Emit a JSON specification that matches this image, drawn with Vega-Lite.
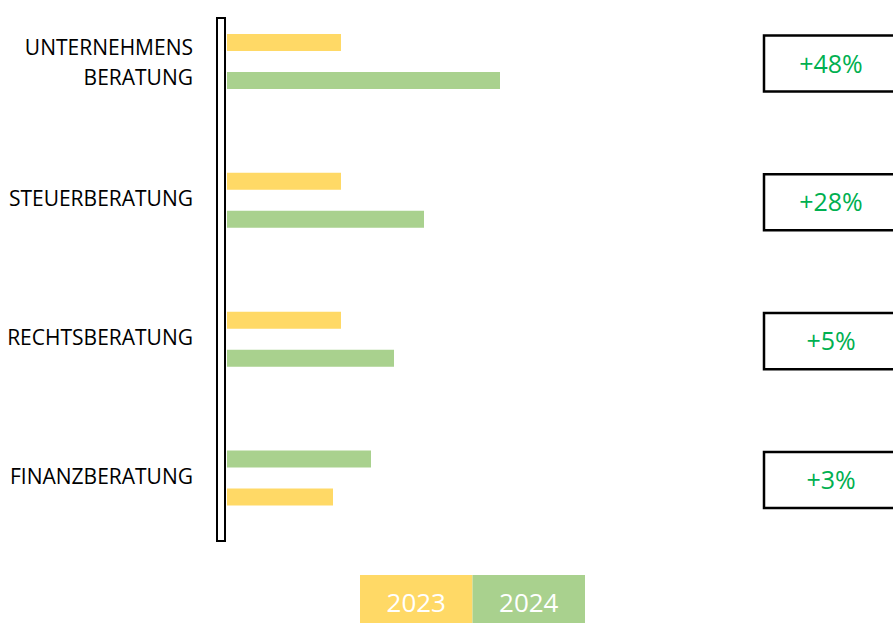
{
  "$schema": "https://vega.github.io/schema/vega-lite/v6.json",
  "padding": {"top": 17, "left": 0, "right": 0, "bottom": 0},
  "spacing": 33,
  "config": {"view": {"stroke": null}, "font": "Open Sans"},
  "datasets": {
    "bars": [
      {"category": "UNTERNEHMENS BERATUNG", "year": "2023", "value": 114},
      {"category": "UNTERNEHMENS BERATUNG", "year": "2024", "value": 273},
      {"category": "STEUERBERATUNG", "year": "2023", "value": 114},
      {"category": "STEUERBERATUNG", "year": "2024", "value": 197},
      {"category": "RECHTSBERATUNG", "year": "2023", "value": 114},
      {"category": "RECHTSBERATUNG", "year": "2024", "value": 167},
      {"category": "FINANZBERATUNG", "year": "2024", "value": 144},
      {"category": "FINANZBERATUNG", "year": "2023", "value": 106}
    ],
    "changes": [
      {"category": "UNTERNEHMENS BERATUNG", "label": "UNTERNEHMENS\nBERATUNG", "change": "+48%"},
      {"category": "STEUERBERATUNG", "label": "STEUERBERATUNG", "change": "+28%"},
      {"category": "RECHTSBERATUNG", "label": "RECHTSBERATUNG", "change": "+5%"},
      {"category": "FINANZBERATUNG", "label": "FINANZBERATUNG", "change": "+3%"}
    ],
    "years": [{"year": "2023"}, {"year": "2024"}]
  },
  "vconcat": [
    {
      "width": 893,
      "height": 523,
      "layer": [
        {
          "data": {"values": [{}]},
          "mark": {"type": "rect", "fill": "white", "stroke": "black", "strokeWidth": 2},
          "encoding": {
            "x": {"datum": -10, "type": "quantitative", "scale": {"domain": [-227, 666], "nice": false, "zero": false}, "axis": null},
            "x2": {"datum": -2}
          }
        },
        {
          "data": {"name": "bars"},
          "transform": [{"filter": "datum.category !== 'FINANZBERATUNG'"}],
          "mark": {"type": "bar"},
          "encoding": {
            "x": {"field": "value", "type": "quantitative", "axis": null},
            "x2": {"datum": 0},
            "y": {"field": "category", "type": "nominal", "axis": null,
                  "scale": {"domain": ["UNTERNEHMENS BERATUNG", "STEUERBERATUNG", "RECHTSBERATUNG", "FINANZBERATUNG"], "paddingInner": 0.4524, "paddingOuter": 0.11, "align": 0.18}},
            "yOffset": {"field": "year", "type": "nominal", "sort": "ascending", "scale": {"paddingInner": 0.5526, "paddingOuter": 0.2763}},
            "color": {"field": "year", "type": "nominal", "legend": null, "scale": {"domain": ["2023", "2024"], "range": ["#FFD966", "#A9D18E"]}}
          }
        },
        {
          "data": {"name": "bars"},
          "transform": [{"filter": "datum.category === 'FINANZBERATUNG'"}],
          "mark": {"type": "bar"},
          "encoding": {
            "x": {"field": "value", "type": "quantitative", "axis": null},
            "x2": {"datum": 0},
            "y": {"field": "category", "type": "nominal", "axis": null},
            "yOffset": {"field": "year", "type": "nominal", "sort": "descending", "scale": {"paddingInner": 0.5526, "paddingOuter": 0.2763}},
            "color": {"field": "year", "type": "nominal", "legend": null}
          }
        },
        {
          "data": {"name": "changes"},
          "transform": [{"filter": "indexof(datum.label, '\\n') < 0"}],
          "mark": {"type": "text", "align": "right", "baseline": "middle", "fontSize": 21, "color": "black"},
          "encoding": {
            "x": {"datum": -34},
            "y": {"field": "category", "type": "nominal", "axis": null},
            "text": {"field": "label"}
          }
        },
        {
          "data": {"name": "changes"},
          "transform": [{"filter": "indexof(datum.label, '\\n') >= 0"}],
          "mark": {"type": "text", "align": "right", "baseline": "middle", "fontSize": 21, "lineHeight": 30, "lineBreak": "\n", "color": "black", "dy": -13},
          "encoding": {
            "x": {"datum": -34},
            "y": {"field": "category", "type": "nominal", "axis": null},
            "text": {"field": "label"}
          }
        },
        {
          "data": {"name": "changes"},
          "mark": {"type": "bar", "fill": "white", "stroke": "black", "strokeWidth": 2.5, "height": {"band": 0.737}, "clip": true, "yOffset": 2},
          "encoding": {
            "x": {"datum": 537},
            "x2": {"datum": 690},
            "y": {"field": "category", "type": "nominal", "axis": null}
          }
        },
        {
          "data": {"name": "changes"},
          "mark": {"type": "text", "align": "center", "baseline": "middle", "fontSize": 25, "color": "#00B050", "dy": 3},
          "encoding": {
            "x": {"datum": 604},
            "y": {"field": "category", "type": "nominal", "axis": null},
            "text": {"field": "change"}
          }
        }
      ],
      "resolve": {"scale": {"yOffset": "independent"}}
    },
    {
      "width": 893,
      "height": 50,
      "data": {"name": "years"},
      "layer": [
        {
          "mark": {"type": "rect"},
          "encoding": {
            "x": {"field": "year", "type": "nominal", "axis": null, "scale": {"paddingInner": 0, "paddingOuter": 0, "range": [360, 585]}},
            "color": {"field": "year", "type": "nominal", "legend": null, "scale": {"domain": ["2023", "2024"], "range": ["#FFD966", "#A9D18E"]}}
          }
        },
        {
          "mark": {"type": "text", "color": "white", "fontSize": 26, "baseline": "middle", "dy": 4},
          "encoding": {
            "x": {"field": "year", "type": "nominal", "axis": null},
            "text": {"field": "year"}
          }
        }
      ]
    }
  ]
}
